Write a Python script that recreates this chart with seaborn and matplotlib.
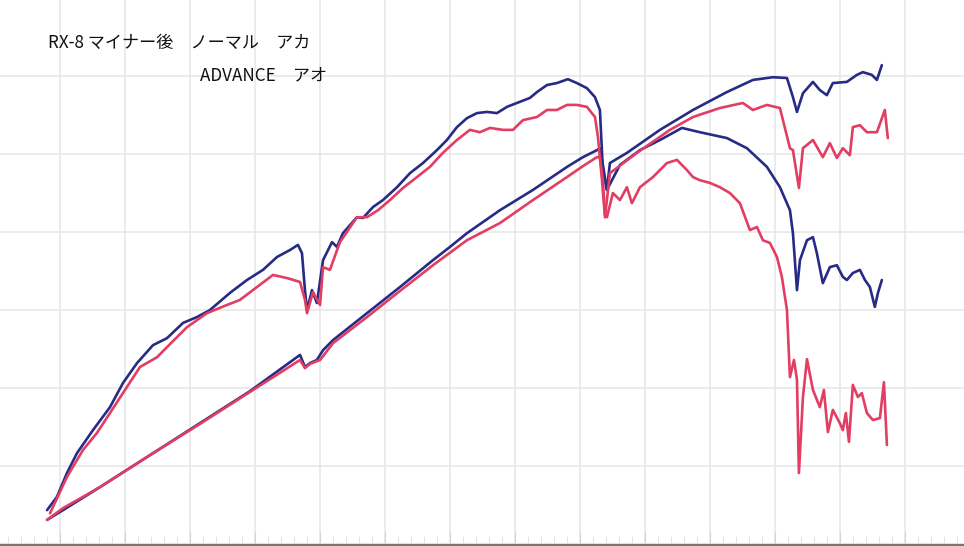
import pandas as pd
import matplotlib.pyplot as plt
import seaborn as sns
from matplotlib.ticker import MultipleLocator

# RX-8 dyno comparison: normal (red) vs ADVANCE (blue)
title_line1 = "RX-8 マイナー後　ノーマル　アカ"
title_line2 = "ADVANCE　アオ"

# ADVANCE (blue) - upper curve
adv_upper_rpm = [2400, 2476, 2553, 2630, 2753, 2884, 2984, 3092, 3215, 3323, 3446, 3553, 3653,
                 3807, 3938, 4061, 4169, 4269, 4330, 4361, 4384, 4400, 4438, 4476, 4523, 4592,
                 4630, 4676, 4784, 4830, 4907, 4984, 5092, 5192, 5292, 5399, 5476, 5553, 5630,
                 5707, 5784, 5861, 5938, 6015, 6115, 6169, 6246, 6322, 6407, 6476, 6553, 6615,
                 6653, 6676, 6707, 6730, 6861, 7115, 7369, 7630, 7830, 7984, 8092, 8138, 8169,
                 8215, 8292, 8345, 8399, 8445, 8553, 8630, 8676, 8745, 8784, 8822]
adv_upper_val = [8.7, 12.1, 18.2, 23.3, 29.2, 35.1, 41.3, 46.4, 51.0, 52.8, 56.7, 58.2, 60.0,
                 64.4, 67.7, 70.3, 73.6, 75.4, 76.7, 74.6, 65.1, 60.0, 65.1, 61.8, 72.8, 77.4,
                 76.2, 79.7, 83.8, 83.6, 86.4, 88.2, 91.5, 95.1, 97.7, 101.0, 103.6, 106.9, 109.2,
                 110.5, 110.8, 110.5, 112.1, 113.1, 114.4, 115.9, 117.7, 118.2, 119.2, 118.2, 116.9, 114.6,
                 111.3, 95.9, 90.8, 97.7, 100.3, 106.2, 111.3, 115.9, 119.0, 119.7, 119.5, 114.6, 110.8,
                 115.6, 118.5, 116.4, 115.1, 118.2, 118.5, 120.3, 121.0, 120.3, 119.0, 122.8]

# Normal (red) - upper curve
nor_upper_rpm = [2423, 2553, 2676, 2784, 2884, 3015, 3115, 3246, 3323, 3476, 3630, 3784, 3884,
                 4015, 4138, 4246, 4346, 4384, 4400, 4446, 4500, 4523, 4576, 4653, 4784, 4861,
                 4946, 5038, 5138, 5246, 5345, 5445, 5553, 5653, 5730, 5807, 5907, 5984, 6061,
                 6169, 6246, 6322, 6400, 6476, 6553, 6615, 6638, 6669, 6692, 6730, 6938, 7192,
                 7369, 7576, 7753, 7830, 7938, 8038, 8115, 8138, 8184, 8215, 8292, 8368, 8422,
                 8476, 8522, 8576, 8599, 8653, 8707, 8784, 8845, 8868]
nor_upper_val = [7.9, 17.2, 24.1, 28.5, 33.6, 40.3, 45.4, 47.9, 50.5, 55.6, 59.2, 61.3, 62.6,
                 65.9, 69.0, 68.2, 67.2, 62.6, 59.2, 64.6, 61.3, 71.0, 70.3, 77.4, 83.8, 83.8,
                 85.6, 88.2, 91.3, 94.1, 96.7, 100.3, 103.6, 106.2, 105.6, 106.7, 106.2, 106.2, 108.7,
                 109.5, 111.3, 111.3, 112.6, 112.6, 112.1, 109.5, 104.4, 93.3, 83.8, 95.1, 100.3, 106.2,
                 109.5, 111.8, 113.1, 111.3, 112.6, 111.8, 101.5, 101.0, 91.3, 101.5, 103.6, 99.2, 102.8,
                 99.0, 101.5, 99.7, 106.9, 107.4, 105.6, 105.6, 111.3, 104.1]

# ADVANCE (blue) - lower curve
adv_lower_rpm = [2400, 2523, 2807, 3192, 3576, 3961, 4346, 4384, 4423, 4476, 4523, 4600, 4861,
                 5115, 5369, 5500, 5630, 5884, 6138, 6400, 6522, 6630, 6653, 6676, 6707, 6807,
                 6961, 7115, 7284, 7422, 7630, 7784, 7938, 8038, 8115, 8138, 8169, 8192, 8246,
                 8292, 8322, 8368, 8422, 8476, 8522, 8553, 8599, 8653, 8692, 8730, 8768, 8792, 8822]
adv_lower_val = [6.2, 8.7, 14.6, 22.8, 31.0, 39.2, 48.5, 45.4, 46.4, 47.2, 49.7, 52.3, 59.2,
                 65.9, 72.8, 76.2, 79.7, 85.6, 90.8, 96.7, 99.2, 101.0, 101.5, 97.2, 90.8, 97.2,
                 101.0, 103.6, 106.7, 105.6, 104.1, 101.5, 96.7, 91.5, 85.6, 79.7, 65.1, 72.8, 77.9,
                 78.7, 74.6, 66.9, 71.0, 71.5, 68.5, 67.7, 69.5, 70.3, 67.7, 65.9, 60.8, 64.4, 67.7]

# Normal (red) - lower curve
nor_lower_rpm = [2400, 2523, 2807, 3192, 3576, 3961, 4346, 4384, 4423, 4500, 4600, 4861, 5115,
                 5369, 5630, 5884, 6138, 6400, 6522, 6630, 6653, 6676, 6692, 6707, 6753, 6807,
                 6861, 6899, 6961, 7061, 7169, 7246, 7322, 7369, 7422, 7499, 7576, 7653, 7730,
                 7807, 7861, 7907, 7961, 8015, 8053, 8092, 8115, 8146, 8169, 8184, 8215, 8246,
                 8292, 8345, 8376, 8407, 8445, 8499, 8522, 8545, 8569, 8599, 8638, 8668, 8707,
                 8753, 8807, 8838, 8861]
nor_lower_val = [6.2, 9.2, 14.6, 22.8, 30.8, 39.0, 47.2, 45.1, 46.2, 47.2, 51.5, 58.2, 64.9,
                 71.5, 77.9, 82.3, 88.2, 94.1, 96.9, 99.2, 99.2, 93.3, 84.4, 83.8, 90.0, 88.2,
                 91.5, 87.4, 91.5, 94.1, 97.7, 98.5, 95.9, 94.1, 93.3, 92.6, 91.5, 90.0, 87.4,
                 80.5, 81.3, 77.9, 77.2, 73.6, 68.5, 60.0, 42.8, 47.2, 42.1, 18.2, 37.7, 47.4,
                 39.5, 35.1, 39.5, 28.7, 34.4, 31.0, 29.2, 33.6, 26.2, 40.8, 37.7, 38.7, 33.6,
                 31.8, 32.3, 41.5, 25.4]

frames = []
for name, rpm, val in [
    ("adv_upper", adv_upper_rpm, adv_upper_val),
    ("adv_lower", adv_lower_rpm, adv_lower_val),
    ("nor_upper", nor_upper_rpm, nor_upper_val),
    ("nor_lower", nor_lower_rpm, nor_lower_val),
]:
    frames.append(pd.DataFrame({"rpm": rpm, "value": val, "series": name}))
df = pd.concat(frames, ignore_index=True)

blue = "#262b85"
red = "#e23d62"
palette = {"adv_upper": blue, "adv_lower": blue, "nor_upper": red, "nor_lower": red}

sns.set_style("white")
plt.rcParams["font.family"] = ["Noto Sans CJK JP", "DejaVu Sans"]

fig = plt.figure(figsize=(9.64, 5.46), dpi=100)
ax = fig.add_axes([0, 0, 1, 1])

sns.lineplot(
    data=df,
    x="rpm",
    y="value",
    hue="series",
    palette=palette,
    estimator=None,
    linewidth=1.9,
    legend=False,
    ax=ax,
)

ax.set_xlim(2038, 9454)
ax.set_ylim(-0.5, 139.5)

# grid like the dyno sheet
ax.xaxis.set_major_locator(MultipleLocator(500))
ax.xaxis.set_minor_locator(MultipleLocator(100))
ax.yaxis.set_major_locator(MultipleLocator(20))
ax.grid(True, which="major", color="#e6e6e6", linewidth=1.1)
ax.set_axisbelow(True)
ax.tick_params(which="major", direction="in", length=10, color="#d4d4d4",
               labelbottom=False, labelleft=False, bottom=True, left=False)
ax.tick_params(which="minor", direction="in", length=7, color="#dcdcdc",
               bottom=True, left=False)
for side in ["top", "left", "right"]:
    ax.spines[side].set_visible(False)
ax.spines["bottom"].set_color("#777777")
ax.spines["bottom"].set_linewidth(3)
ax.set_xlabel("")
ax.set_ylabel("")

ax.text(0.05, 0.922, title_line1, transform=ax.transAxes, fontsize=12.3,
        color="#111111", va="center", ha="left")
ax.text(0.207, 0.862, title_line2, transform=ax.transAxes, fontsize=12.3,
        color="#111111", va="center", ha="left")

fig.savefig("out.png", dpi=100)
plt.close(fig)
